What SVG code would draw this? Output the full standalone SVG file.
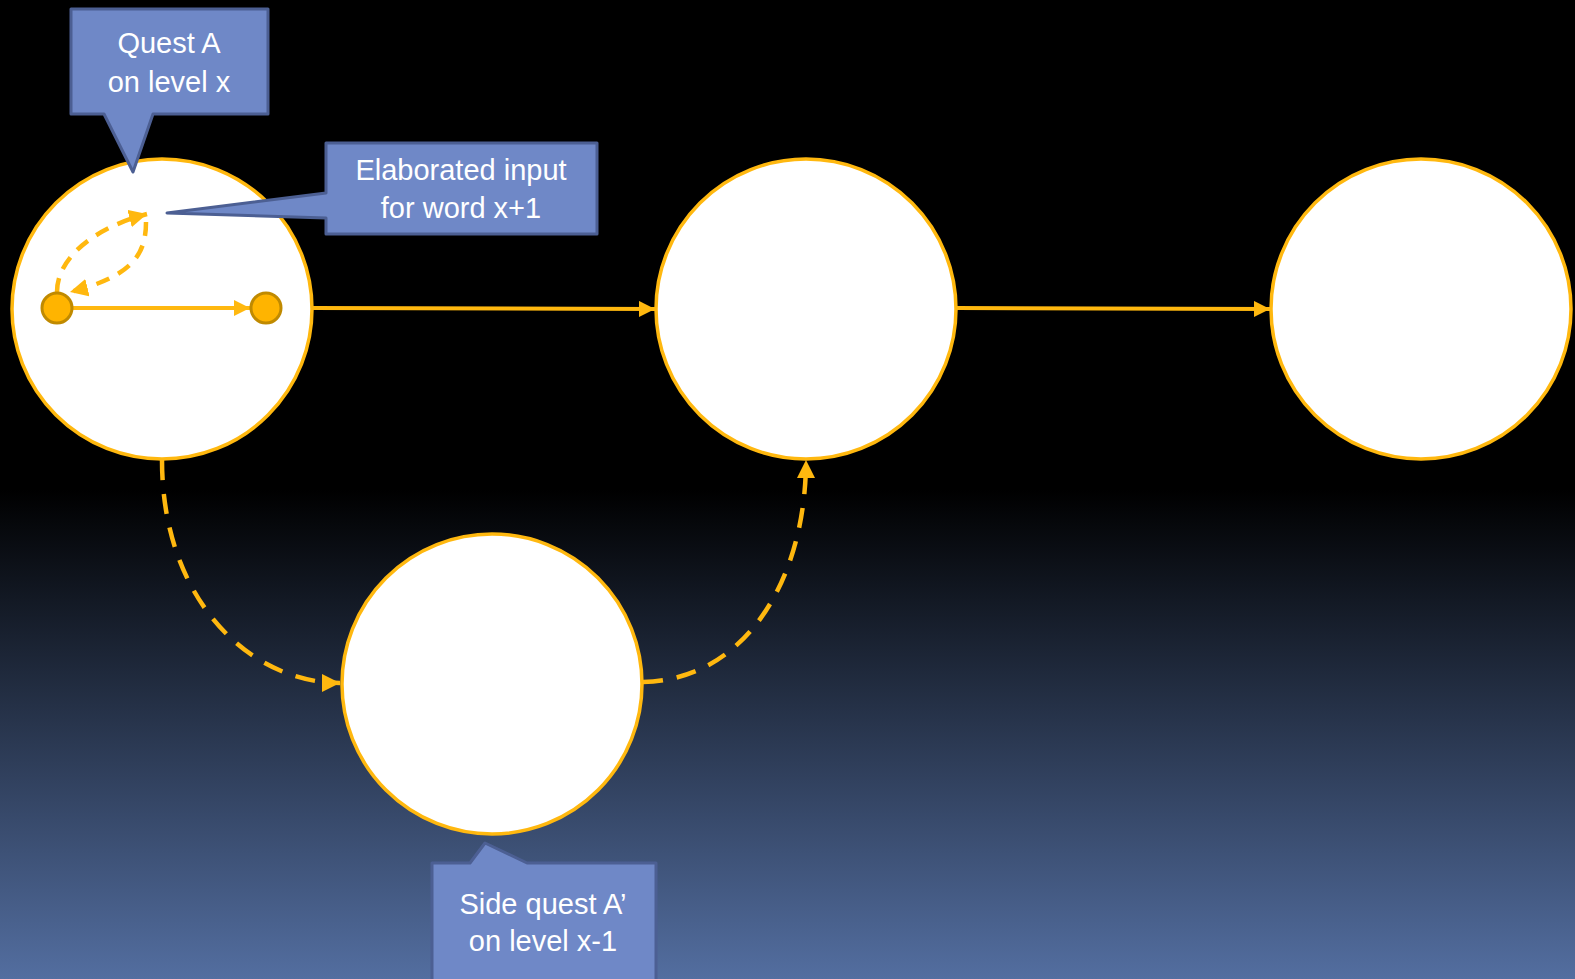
<svg xmlns="http://www.w3.org/2000/svg" width="1575" height="979" viewBox="0 0 1575 979">
<defs>
<linearGradient id="bg" x1="0" y1="0" x2="0" y2="1">
<stop offset="0" stop-color="#000000"/>
<stop offset="0.5" stop-color="#000000"/>
<stop offset="1" stop-color="#536EA0"/>
</linearGradient>
<marker id="arr" viewBox="0 0 10 10" refX="10" refY="5" markerWidth="4" markerHeight="4" markerUnits="strokeWidth" orient="auto">
<path d="M0,0 L10,5 L0,10 Z" fill="#FFB80F"/>
</marker>
<style>
.big{fill:#FFFFFF;stroke:#FFB80F;stroke-width:3.5}
.dot{fill:#FFB400;stroke:#C08A00;stroke-width:3}
.ln{fill:none;stroke:#FFB80F;stroke-width:4}
.dash{fill:none;stroke:#FFB80F;stroke-width:4.5;stroke-dasharray:20,14}
.dsm{fill:none;stroke:#FFB80F;stroke-width:4.5;stroke-dasharray:14,10}
.call{fill:#6F88C7;stroke:#4C5F93;stroke-width:3;stroke-linejoin:round}
.tx{font-family:"Liberation Sans",Arial,sans-serif;font-size:29px;fill:#FFFFFF;text-anchor:middle}
</style>
</defs>
<rect x="0" y="0" width="1575" height="979" fill="url(#bg)"/>
<g id="node1"><circle class="big" cx="162" cy="309" r="150"/></g>
<g id="node2"><circle class="big" cx="806" cy="309" r="150"/></g>
<g id="node3"><circle class="big" cx="1421" cy="309" r="150"/></g>
<g id="node4"><circle class="big" cx="492" cy="684" r="150"/></g>
<g id="connectors">
<line class="ln" x1="313" y1="308" x2="655" y2="309" marker-end="url(#arr)"/>
<line class="ln" x1="957" y1="308" x2="1270" y2="309" marker-end="url(#arr)"/>
<path class="dash" d="M162,460 C162,600 250,683 340,683" marker-end="url(#arr)"/>
<path class="dash" d="M643,682 C745,680 806,580 806,460" marker-end="url(#arr)"/>
<line class="ln" x1="73" y1="308" x2="250" y2="308" marker-end="url(#arr)"/>
<path class="dsm" d="M57,292 C57,255 100,226 147,214" marker-end="url(#arr)"/>
<path class="dsm" d="M146,222 C146,252 135,276 70,292" marker-end="url(#arr)"/>
</g>
<g id="dot1"><circle class="dot" cx="57" cy="308" r="15"/></g>
<g id="dot2"><circle class="dot" cx="266" cy="308" r="15"/></g>
<g id="callout-quest">
<path class="call" d="M71,9 H268 V114 H153 L133,172 L104,114 H71 Z"/>
<text class="tx" x="169" y="53">Quest A</text>
<text class="tx" x="169" y="92">on level x</text>
</g>
<g id="callout-elab">
<path class="call" d="M326,143 H597 V234 H326 V218 L167,213 L326,193 Z"/>
<text class="tx" x="461" y="180">Elaborated input</text>
<text class="tx" x="461" y="218">for word x+1</text>
</g>
<g id="callout-side">
<path class="call" d="M432,863 H470 L485,843 L527,863 H656 V985 H432 Z"/>
<text class="tx" x="543" y="914">Side quest A’</text>
<text class="tx" x="543" y="951">on level x-1</text>
</g>
</svg>
